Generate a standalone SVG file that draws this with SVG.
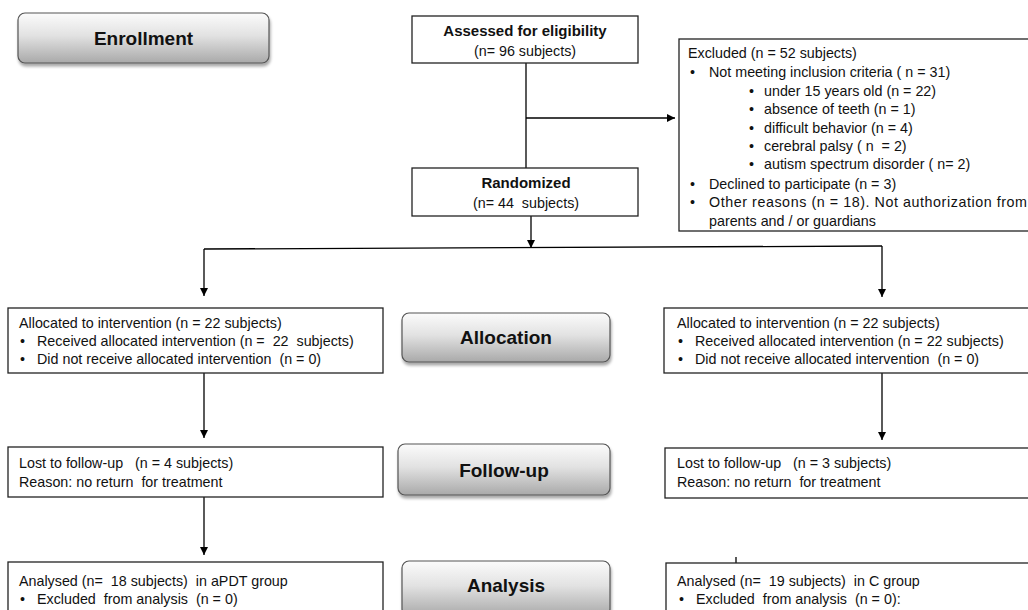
<svg xmlns="http://www.w3.org/2000/svg" width="1028" height="610" viewBox="0 0 1028 610" xml:space="preserve">
<defs>
<linearGradient id="g" x1="0" y1="0" x2="0" y2="1">
<stop offset="0" stop-color="#fbfbfb"/>
<stop offset="0.45" stop-color="#e2e2e2"/>
<stop offset="1" stop-color="#a9a9a9"/>
</linearGradient>
<filter id="sh" x="-10%" y="-20%" width="125%" height="150%">
<feGaussianBlur in="SourceAlpha" stdDeviation="1.5"/>
<feOffset dx="1" dy="3"/>
<feComponentTransfer><feFuncA type="linear" slope="0.35"/></feComponentTransfer>
<feMerge><feMergeNode/><feMergeNode in="SourceGraphic"/></feMerge>
</filter>
<marker id="ah" viewBox="0 0 10 10" refX="10" refY="5" markerWidth="9" markerHeight="8" markerUnits="userSpaceOnUse" orient="auto">
<path d="M0,0 L10,5 L0,10 Z" fill="#000"/>
</marker>
</defs>
<style>
text{font-family:"Liberation Sans",Arial,sans-serif;font-size:14.3px;fill:#111;white-space:pre}
.b{font-weight:bold;font-size:15px}
.btn{font-weight:bold;font-size:19px;fill:#111}
.box{fill:#fff;stroke:#222;stroke-width:1.3}
.pill{fill:url(#g);stroke:#555;stroke-width:1.2;filter:url(#sh)}
.ln{fill:none;stroke:#000;stroke-width:1.3}
</style>
<rect width="1028" height="610" fill="#fff"/>

<g id="connectors">
<path class="ln" d="M526,63 V168"/>
<path class="ln" d="M526,118 H675" marker-end="url(#ah)"/>
<path class="ln" d="M531,216 V248" marker-end="url(#ah)"/>
<path class="ln" d="M204,249 L882,246"/>
<path class="ln" d="M204,249 V296" marker-end="url(#ah)"/>
<path class="ln" d="M882,246 V297" marker-end="url(#ah)"/>
<path class="ln" d="M204,373 V438" marker-end="url(#ah)"/>
<path class="ln" d="M882,373 V440" marker-end="url(#ah)"/>
<path class="ln" d="M204,497 V555" marker-end="url(#ah)"/>
<path class="ln" d="M736,557 V563"/>
</g>

<g id="enrollment">
<rect class="pill" x="18" y="13" width="251" height="50" rx="7"/>
<text class="btn" x="143.5" y="45" text-anchor="middle">Enrollment</text>
</g>

<g id="assessed">
<rect class="box" x="412" y="16" width="226" height="47"/>
<text class="b" x="525" y="36" text-anchor="middle">Assessed for eligibility</text>
<text x="525" y="56" text-anchor="middle">(n= 96 subjects)</text>
</g>

<g id="excluded">
<rect class="box" x="679" y="39" width="360" height="192"/>
<text x="688" y="58">Excluded (n = 52 subjects)</text>
<text x="690" y="77">•</text><text x="709" y="77">Not meeting inclusion criteria ( n = 31)</text>
<text x="749" y="96">•</text><text x="764" y="96">under 15 years old (n = 22)</text>
<text x="749" y="114">•</text><text x="764" y="114">absence of teeth (n = 1)</text>
<text x="749" y="133">•</text><text x="764" y="133">difficult behavior (n = 4)</text>
<text x="749" y="151">•</text><text x="764" y="151">cerebral palsy ( n  = 2)</text>
<text x="749" y="169">•</text><text x="764" y="169">autism spectrum disorder ( n= 2)</text>
<text x="690" y="189">•</text><text x="709" y="189">Declined to participate (n = 3)</text>
<text x="690" y="207">•</text><text x="709" y="207" textLength="318" lengthAdjust="spacing">Other reasons (n = 18). Not authorization from</text>
<text x="709" y="226">parents and / or guardians</text>
</g>

<g id="randomized">
<rect class="box" x="412" y="168" width="226" height="48"/>
<text class="b" x="526" y="188" text-anchor="middle">Randomized</text>
<text x="526" y="208" text-anchor="middle">(n= 44  subjects)</text>
</g>

<g id="alloc-left">
<rect class="box" x="8" y="308" width="375" height="65"/>
<text x="19" y="328">Allocated to intervention (n = 22 subjects)</text>
<text x="20" y="346">•</text><text x="37" y="346">Received allocated intervention (n =  22  subjects)</text>
<text x="20" y="364">•</text><text x="37" y="364">Did not receive allocated intervention  (n = 0)</text>
</g>

<g id="allocation">
<rect class="pill" x="402" y="313" width="208" height="49" rx="7"/>
<text class="btn" x="506" y="344" text-anchor="middle">Allocation</text>
</g>

<g id="alloc-right">
<rect class="box" x="664" y="308" width="380" height="65"/>
<text x="677" y="328">Allocated to intervention (n = 22 subjects)</text>
<text x="678" y="346">•</text><text x="695" y="346">Received allocated intervention (n = 22 subjects)</text>
<text x="678" y="364">•</text><text x="695" y="364">Did not receive allocated intervention  (n = 0)</text>
</g>

<g id="follow-left">
<rect class="box" x="8" y="447" width="375" height="50"/>
<text x="19" y="468">Lost to follow-up   (n = 4 subjects)</text>
<text x="19" y="487">Reason: no return  for treatment</text>
</g>

<g id="followup">
<rect class="pill" x="398" y="444" width="212" height="51" rx="7"/>
<text class="btn" x="504" y="477" text-anchor="middle">Follow-up</text>
</g>

<g id="follow-right">
<rect class="box" x="665" y="448" width="380" height="50"/>
<text x="677" y="468">Lost to follow-up   (n = 3 subjects)</text>
<text x="677" y="487">Reason: no return  for treatment</text>
</g>

<g id="analysis-left">
<rect class="box" x="8" y="562" width="375" height="60"/>
<text x="19" y="586">Analysed (n=  18 subjects)  in aPDT group</text>
<text x="20" y="604">•</text><text x="37" y="604">Excluded  from analysis  (n = 0)</text>
</g>

<g id="analysis">
<rect class="pill" x="402" y="561" width="208" height="55" rx="7"/>
<text class="btn" x="506" y="592" text-anchor="middle">Analysis</text>
</g>

<g id="analysis-right">
<rect class="box" x="666" y="563" width="380" height="60"/>
<text x="677" y="586">Analysed (n=  19 subjects)  in C group</text>
<text x="679" y="604">•</text><text x="696" y="604">Excluded  from analysis  (n = 0):</text>
</g>
</svg>
